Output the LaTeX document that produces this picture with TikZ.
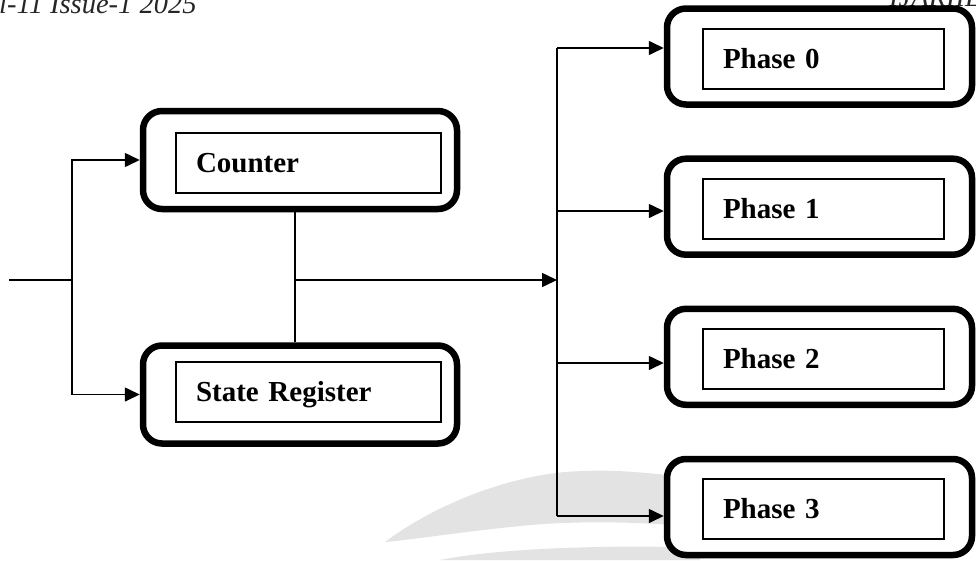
\documentclass[tikz,border=0pt]{standalone}
\usepackage{fontspec}
\setmainfont{Liberation Serif}
\usetikzlibrary{arrows.meta}
\begin{document}
\begin{tikzpicture}[x=1pt,y=-1pt,
  outerbox/.style={draw, line width=6.5pt, rounded corners=19pt, fill=white, minimum width=#1, inner sep=0pt},
  innerbox/.style={draw, line width=2pt, fill=white, minimum height=60pt, text width=#1, inner xsep=20pt, inner ysep=0pt, align=left, text height=19pt, text depth=0pt, font=\fontsize{29}{32}\selectfont\bfseries},
  wire/.style={line width=1.6pt},
  arrow/.style={line width=1.6pt, -{Triangle[length=15pt,width=14pt]}},
  hdr/.style={anchor=base west, inner sep=0pt, font=\itshape\fontsize{28.5}{30}\selectfont, text=black!85},
  wm/.style={fill=black!11, draw=none}
]
\useasboundingbox (0,0) rectangle (976,560);
\clip (0,0) rectangle (976,560);

% faint watermark swoosh
\fill[wm] (385,542) .. controls (430,508) and (500,478) .. (565,472)
  .. controls (620,468) and (650,474) .. (700,478) -- (700,527)
  .. controls (640,522) and (580,520) .. (520,526)
  .. controls (460,532) and (410,540) .. (385,542) -- cycle;
\fill[wm] (440,560) .. controls (480,552) and (540,548) .. (600,547)
  .. controls (640,546) and (680,547) .. (700,548) -- (700,560) -- cycle;

% header text (cut off by page edge, as in the reference)
\node[hdr] (hdrL) at (-1,13) {l-11 Issue-1 2025};
\node[hdr] (hdrR) at (889,6) {IJARIIE};

% left blocks
\node[outerbox=314, minimum height=98pt] (cntO) at (300,160) {};
\node[innerbox=225] (cnt) at (308.5,162.5) {Counter};
\node[outerbox=314, minimum height=98pt] (regO) at (300,394.5) {};
\node[innerbox=225] (reg) at (308.5,392) {State Register};

% phase blocks
\node[outerbox=305, minimum height=96pt] (p0O) at (819.5,56.5) {};
\node[innerbox=201] (p0) at (823.5,59) {Phase 0};
\node[outerbox=305, minimum height=96pt] (p1O) at (819.5,206.7) {};
\node[innerbox=201] (p1) at (823.5,209) {Phase 1};
\node[outerbox=305, minimum height=96pt] (p2O) at (819.5,356.8) {};
\node[innerbox=201] (p2) at (823.5,359) {Phase 2};
\node[outerbox=305, minimum height=96pt] (p3O) at (819.5,507) {};
\node[innerbox=201] (p3) at (823.5,509) {Phase 3};

% input distribution
\coordinate (in) at (9,280);
\coordinate (sp) at (72,280);
\draw[wire] (in) -- (sp);
\draw[arrow] (sp) |- (cntO.west);
\draw[arrow] (sp) |- (regO.west);

% middle link
\coordinate (mj) at (295,280);
\draw[wire] (cntO.south -| mj) -- (regO.north -| mj);

% bus
\coordinate (bt) at (557,48);
\coordinate (b1) at (557,211);
\coordinate (bm) at (557,280);
\coordinate (b2) at (557,363);
\coordinate (bb) at (557,516);
\draw[arrow] (mj) -- (bm);
\draw[wire] (bt) -- (bb);
\draw[arrow] (bt) -- (bt -| p0O.west);
\draw[arrow] (b1) -- (b1 -| p1O.west);
\draw[arrow] (b2) -- (b2 -| p2O.west);
\draw[arrow] (bb) -- (bb -| p3O.west);
\end{tikzpicture}
\end{document}
